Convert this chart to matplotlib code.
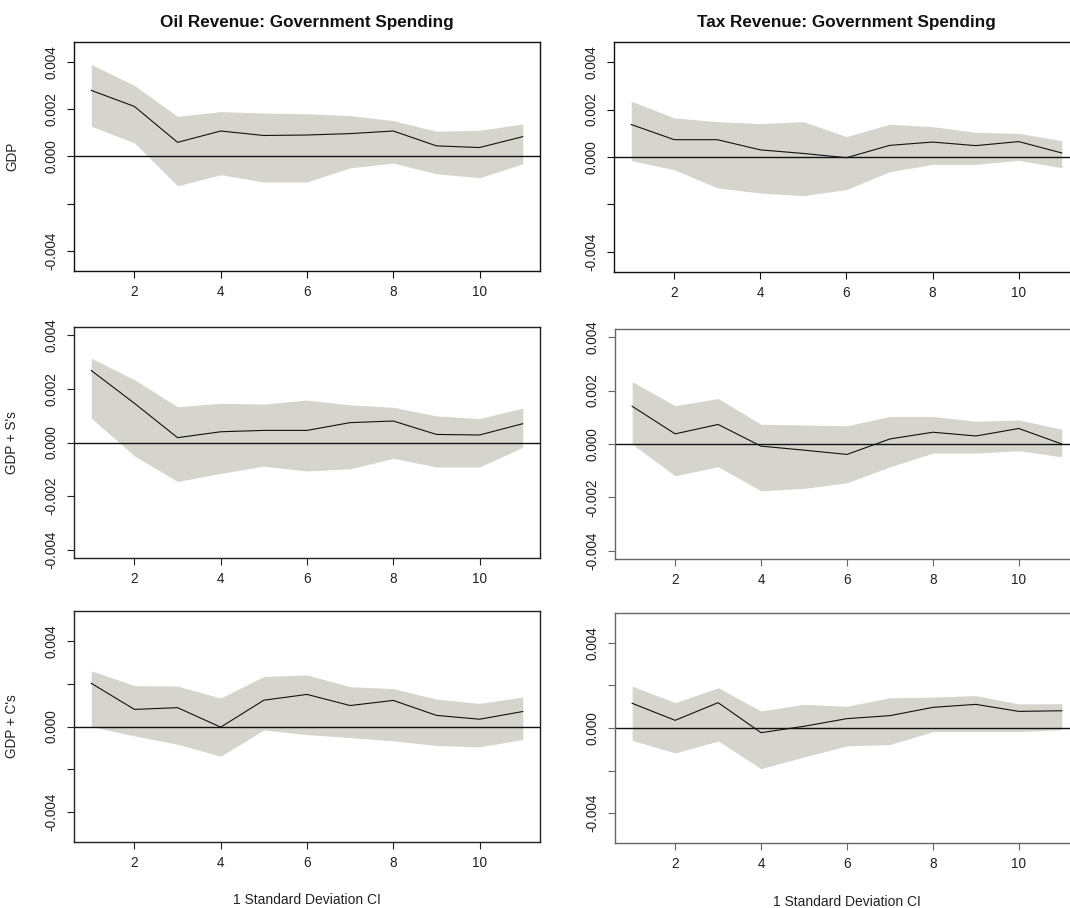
import numpy as np
import matplotlib
matplotlib.use('Agg')
import matplotlib.pyplot as plt

plt.rcParams['font.family'] = ['Liberation Sans', 'DejaVu Sans']

# ---------------------------------------------------------------------------
# Data (periods 1..11)
# ---------------------------------------------------------------------------
periods = np.arange(1, 12)

col_titles = ['Oil Revenue: Government Spending', 'Tax Revenue: Government Spending']
row_labels = ['GDP', "GDP + S's", "GDP + C's"]
x_label = '1 Standard Deviation CI'

# oil revenue column
oil_gdp_mid = [0.00280, 0.00212, 0.00060, 0.00108, 0.00089, 0.00091, 0.00097, 0.00108, 0.00045, 0.00038, 0.00084]
oil_gdp_hi  = [0.00390, 0.00301, 0.00170, 0.00190, 0.00184, 0.00181, 0.00173, 0.00152, 0.00107, 0.00111, 0.00138]
oil_gdp_lo  = [0.00128, 0.00058, -0.00124, -0.00077, -0.00108, -0.00108, -0.00048, -0.00028, -0.00073, -0.00090, -0.00031]

oil_s_mid = [0.00268, 0.00146, 0.00018, 0.00040, 0.00045, 0.00045, 0.00074, 0.00080, 0.00030, 0.00028, 0.00070]
oil_s_hi  = [0.00314, 0.00234, 0.00133, 0.00146, 0.00143, 0.00158, 0.00140, 0.00131, 0.00099, 0.00089, 0.00128]
oil_s_lo  = [0.00091, -0.00050, -0.00145, -0.00115, -0.00088, -0.00106, -0.00098, -0.00059, -0.00091, -0.00091, -0.00018]

oil_c_mid = [0.00202, 0.00080, 0.00088, -0.00003, 0.00123, 0.00150, 0.00098, 0.00122, 0.00052, 0.00034, 0.00070]
oil_c_hi  = [0.00261, 0.00191, 0.00189, 0.00133, 0.00234, 0.00241, 0.00186, 0.00177, 0.00128, 0.00108, 0.00138]
oil_c_lo  = [0.00000, -0.00044, -0.00083, -0.00139, -0.00016, -0.00038, -0.00052, -0.00067, -0.00089, -0.00095, -0.00061]

# tax revenue column
tax_gdp_mid = [0.00137, 0.00073, 0.00073, 0.00030, 0.00015, -0.00003, 0.00049, 0.00063, 0.00048, 0.00065, 0.00017]
tax_gdp_hi  = [0.00235, 0.00165, 0.00149, 0.00141, 0.00149, 0.00086, 0.00138, 0.00128, 0.00104, 0.00100, 0.00069]
tax_gdp_lo  = [-0.00015, -0.00054, -0.00130, -0.00152, -0.00163, -0.00137, -0.00062, -0.00031, -0.00031, -0.00014, -0.00045]

tax_s_mid = [0.00141, 0.00038, 0.00073, -0.00008, -0.00023, -0.00039, 0.00019, 0.00044, 0.00030, 0.00058, 0.00000]
tax_s_hi  = [0.00233, 0.00143, 0.00170, 0.00074, 0.00071, 0.00068, 0.00103, 0.00103, 0.00085, 0.00090, 0.00055]
tax_s_lo  = [0.00000, -0.00119, -0.00085, -0.00175, -0.00166, -0.00145, -0.00085, -0.00034, -0.00034, -0.00025, -0.00048]

tax_c_mid = [0.00116, 0.00036, 0.00119, -0.00022, 0.00008, 0.00044, 0.00058, 0.00097, 0.00111, 0.00078, 0.00081]
tax_c_hi  = [0.00197, 0.00119, 0.00189, 0.00080, 0.00111, 0.00102, 0.00142, 0.00145, 0.00152, 0.00113, 0.00114]
tax_c_lo  = [-0.00058, -0.00117, -0.00061, -0.00191, -0.00136, -0.00084, -0.00078, -0.00017, -0.00017, -0.00017, -0.00008]

y_ticks = [-0.004, -0.002, 0.0, 0.002, 0.004]
y_ticklabels_top = ['-0.004', '', '0.000', '0.002', '0.004']
y_ticklabels_mid = ['-0.004', '-0.002', '0.000', '0.002', '0.004']
y_ticklabels_bot = ['-0.004', '', '0.000', '', '0.004']
x_ticks = [2, 4, 6, 8, 10]

# ---------------------------------------------------------------------------
W, H = 1070, 908
FILL = '#D5D5CD'

fig = plt.figure(figsize=(W / 100, H / 100), dpi=100)


def px_axes(x0, y0, x1, y1):
    """Axes from pixel box (top-left origin)."""
    return fig.add_axes([x0 / W, 1 - y1 / H, (x1 - x0) / W, (y1 - y0) / H])


def draw(ax, mid, hi, lo, ylim, ticklabels, spine_col):
    ax.fill_between(periods, lo, hi, color=FILL, lw=0, zorder=1)
    ax.axhline(0, color='#111111', lw=1.0, zorder=2)
    ax.plot(periods, mid, color='#111111', lw=0.8, zorder=3)
    ax.set_xlim(0.6, 11.4)
    ax.set_ylim(*ylim)
    ax.set_xticks(x_ticks)
    ax.set_yticks(y_ticks)
    ax.set_yticklabels(ticklabels, rotation=90, va='center')
    ax.tick_params(axis='both', length=5, width=0.8, colors=spine_col,
                   labelcolor='#222222', labelsize=9.8)
    ax.tick_params(axis='x', pad=5)
    ax.tick_params(axis='y', pad=6)
    for s in ax.spines.values():
        s.set_color(spine_col)
        s.set_linewidth(1.0)


panels = [
    # (box, mid, hi, lo, ylim, ticklabels, spine colour)
    ((74, 42, 540, 271), oil_gdp_mid, oil_gdp_hi, oil_gdp_lo, (-0.00485, 0.00485), y_ticklabels_top, '#111111'),
    ((614, 42, 1079, 272), tax_gdp_mid, tax_gdp_hi, tax_gdp_lo, (-0.00485, 0.00485), y_ticklabels_top, '#111111'),
    ((74, 327, 540, 558), oil_s_mid, oil_s_hi, oil_s_lo, (-0.0043, 0.0043), y_ticklabels_mid, '#222222'),
    ((615, 329, 1079, 559), tax_s_mid, tax_s_hi, tax_s_lo, (-0.0043, 0.0043), y_ticklabels_mid, '#666666'),
    ((74, 611, 540, 842), oil_c_mid, oil_c_hi, oil_c_lo, (-0.0054, 0.0054), y_ticklabels_bot, '#222222'),
    ((615, 613, 1079, 843), tax_c_mid, tax_c_hi, tax_c_lo, (-0.0054, 0.0054), y_ticklabels_bot, '#666666'),
]

axes = []
for box, mid, hi, lo, ylim, tl, sc in panels:
    ax = px_axes(*box)
    draw(ax, mid, hi, lo, ylim, tl, sc)
    axes.append(ax)

for i, title in enumerate(col_titles):
    axes[i].set_title(title, fontsize=12.3, fontweight='bold', color='#111111', pad=11)

for r, lab in enumerate(row_labels):
    ax = axes[2 * r]
    ax.set_ylabel(lab, fontsize=9.8, color='#222222')
    ax.yaxis.set_label_coords(-0.118, 0.5)

for ax in axes[4:]:
    ax.set_xlabel(x_label, fontsize=10, color='#222222', labelpad=17)

fig.savefig('out.png', dpi=100)
